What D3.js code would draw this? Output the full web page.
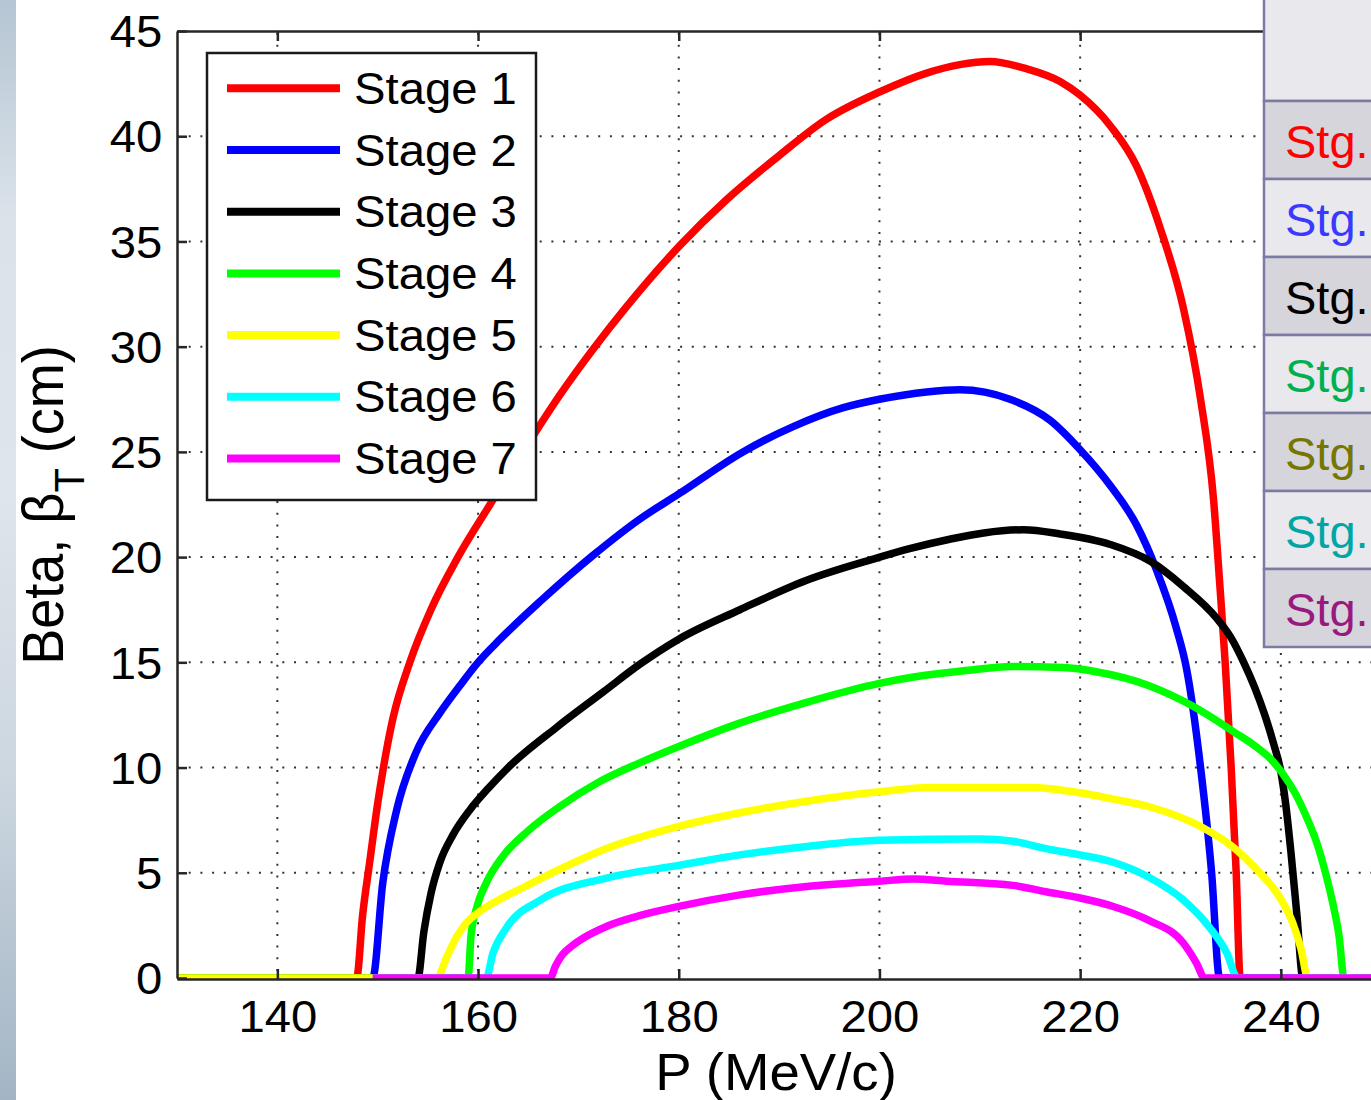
<!DOCTYPE html>
<html><head><meta charset="utf-8">
<script src="https://cdn.jsdelivr.net/npm/d3@7"></script>
<style>
body{margin:0;background:#fff;overflow:hidden}
svg{display:block}
text{font-family:"Liberation Sans",Arial,sans-serif}
</style>
</head><body>
<svg id="c" width="1371" height="1100"></svg>
<script>
// ---------------- data ----------------
const stageNames = ["Stage 1","Stage 2","Stage 3","Stage 4","Stage 5","Stage 6","Stage 7"];
const stageColors = ["#ff0000","#0000ff","#000000","#00ff00","#ffff00","#00ffff","#ff00ff"];

const stage1 = [[130,0],[147.9,0],[148.5,3],[149.2,5.5],[150,8.3],[150.5,9.8],[151.5,12.3],[153.2,15],[155.3,17.5],[158,20],[161.2,22.5],[165.8,26],[168.3,27.8],[171.5,29.9],[174.8,31.9],[180.1,34.8],[184.8,37],[189.8,39],[194.7,40.8],[200,42.1],[204.7,43],[208,43.4],[211,43.55],[214.7,43.2],[218,42.6],[220,41.95],[223,40.5],[225.6,38.6],[228,35.6],[230.3,31.8],[232,27.5],[233.3,22.7],[233.9,18.8],[234.45,15],[235.05,10],[235.55,5],[235.95,0],[250,0]];
const stage2 = [[130,0],[149.5,0],[150.5,4.5],[151.9,8],[153.8,10.7],[156.2,12.6],[158.2,13.9],[160,15],[162.2,16.1],[166.2,17.9],[171.5,20.1],[176.1,21.8],[180,23],[186.4,25],[191.4,26.2],[196.4,27.1],[200,27.5],[204.7,27.85],[208,27.95],[213,27.5],[217,26.5],[220,25.1],[223,23.4],[225.65,21.5],[227.6,19.4],[229.6,16.6],[230.6,14.7],[232,10],[233.1,5],[233.9,0],[250,0]];
const stage3 = [[130,0],[154,0],[154.6,2.2],[155.3,4],[156.2,5.5],[157.5,6.8],[159.2,8],[161,9],[163,10],[167.8,11.9],[172.5,13.6],[176.1,14.9],[180,16.1],[186.1,17.5],[192.75,18.9],[199.7,19.95],[203,20.4],[207,20.85],[210.4,21.15],[214.35,21.3],[218,21.1],[223,20.6],[227,19.8],[230.3,18.6],[233.6,17.1],[235,16.2],[236.3,15],[237.4,13.8],[238.4,12.5],[239.3,11.1],[240,9.8],[240.5,8.2],[241,6],[241.6,3],[242.2,0],[250,0]];
const stage4 = [[130,0],[159,0],[159.3,2],[159.9,3.4],[160.8,4.5],[162.5,5.8],[165,7],[168,8.1],[172,9.3],[176,10.2],[180,11],[186,12.1],[192.75,13.1],[200,14],[203.4,14.3],[208.4,14.6],[213.3,14.8],[218.3,14.75],[221.6,14.55],[226.8,13.9],[231.3,12.9],[235.3,11.7],[237.5,11],[239,10.4],[240.2,9.7],[241.4,8.8],[242.6,7.6],[243.6,6.4],[244.5,4.9],[245.2,3.5],[245.8,2],[246.3,0],[250,0]];
const stage5 = [[130,0],[155.9,0],[156.8,0.9],[157.8,1.9],[158.8,2.6],[160,3.1],[162,3.7],[164.5,4.3],[167,4.9],[172.8,6.15],[180,7.2],[186.1,7.85],[192.75,8.4],[200,8.85],[205,9.05],[215,9.05],[220,8.8],[223.3,8.5],[226.8,8.15],[232,7.2],[235.3,6.2],[237.9,5],[239.2,4.3],[240.3,3.5],[241.2,2.6],[242,1.4],[242.7,0],[250,0]];
const stage6 = [[149.5,0],[160.8,0],[161.5,1.2],[162.85,2.4],[166.2,3.7],[172.8,4.75],[180,5.35],[186.1,5.85],[192.75,6.25],[200,6.55],[210,6.6],[213.3,6.5],[216.6,6.15],[220,5.85],[223.3,5.5],[226.8,4.8],[230.3,3.7],[232.9,2.4],[234.6,1.2],[235.7,0],[250,0]];
const stage7 = [[149.5,0],[167.2,0],[167.7,0.55],[168.4,1.1],[169.3,1.5],[170.5,1.9],[172.8,2.45],[176,2.95],[180,3.4],[186.1,3.95],[192.75,4.35],[200,4.6],[203.4,4.7],[206.7,4.6],[213.3,4.4],[216.6,4.1],[220,3.8],[223.3,3.4],[226.8,2.75],[230.3,1.65],[231.6,0.7],[232.4,0],[250,0]];
const stages = [stage1,stage2,stage3,stage4,stage5,stage6,stage7];

const xTicks = [140,160,180,200,220,240];
const yTicks = [0,5,10,15,20,25,30,35,40,45];
const xLabel = "P (MeV/c)";
const tableLabels = ["Stg.","Stg.","Stg.","Stg.","Stg.","Stg.","Stg."];
const tableColors = ["#ff0000","#3a3aff","#000000","#00b050","#767600","#00a6a6","#99197f"];

// ---------------- layout ----------------
const svg = d3.select("#c");
const L = 177, T = 31, B = 978;
const x = d3.scaleLinear().domain([130,250]).range([L, L + 120*10.035]);
const y = d3.scaleLinear().domain([0,45]).range([B, T]);
const R = x(250);
const SX = 1.05;

// left gradient strip
const defs = svg.append("defs");
const grad = defs.append("linearGradient").attr("id","strip").attr("x1",0).attr("y1",0).attr("x2",0).attr("y2",1);
[[0,"#b5c5d3"],[0.2,"#dbe3ea"],[0.45,"#dee5eb"],[0.7,"#cdd7e0"],[1,"#a3b5c5"]].forEach(s=>grad.append("stop").attr("offset",s[0]).attr("stop-color",s[1]));
svg.append("rect").attr("x",0).attr("y",0).attr("width",16).attr("height",1100).attr("fill","url(#strip)");

defs.append("clipPath").attr("id","plotclip").append("rect")
  .attr("x",L+1).attr("y",T).attr("width",R-L).attr("height",B-T+1);

// grid
const grid = svg.append("g").attr("stroke","#333").attr("stroke-width",2).attr("stroke-dasharray","2 9.7");
xTicks.forEach(t=>grid.append("line").attr("x1",x(t)).attr("x2",x(t)).attr("y1",T+2).attr("y2",B));
yTicks.filter(t=>t>0&&t<45).forEach(t=>grid.append("line").attr("x1",L).attr("x2",R).attr("y1",y(t)).attr("y2",y(t)));

// curves
const line = d3.line().x(d=>x(d[0])).y(d=>y(d[1])).curve(d3.curveMonotoneX);
const cg = svg.append("g").attr("clip-path","url(#plotclip)");
stages.forEach((s,i)=>{
  cg.append("path").attr("d",line(s)).attr("fill","none")
    .attr("stroke",stageColors[i]).attr("stroke-width",7.5).attr("stroke-linejoin","round");
});

// axes
const axB = svg.append("g").attr("transform",`translate(0,${B+1})`)
  .call(d3.axisBottom(x).tickValues(xTicks).tickSize(-10).tickSizeOuter(0).tickPadding(21).tickFormat(d3.format("d")));
const axL = svg.append("g").attr("transform",`translate(${L},0)`)
  .call(d3.axisLeft(y).tickValues(yTicks).tickSize(-10).tickSizeOuter(0).tickPadding(14).tickFormat(d3.format("d")));
const axT = svg.append("g").attr("transform",`translate(0,${T})`)
  .call(d3.axisTop(x).tickValues(xTicks).tickSize(-10).tickSizeOuter(0).tickFormat(""));
[axB,axL,axT].forEach(a=>{
  a.select(".domain").attr("stroke","#262626").attr("stroke-width",2.5);
  a.selectAll(".tick line").attr("stroke","#262626").attr("stroke-width",2.5);
  a.selectAll("text").attr("fill","#000").style("font-size","45px").attr("font-family",null);
});
axB.selectAll(".tick text").attr("transform",`scale(${SX},1)`);
axL.selectAll(".tick text").attr("transform",`scale(${SX},1)`).attr("dy","0.35em");

// axis labels
svg.append("text").attr("transform",`translate(776,1090) scale(${SX},1)`)
  .attr("text-anchor","middle").style("font-size","52px").text(xLabel);
const yl = svg.append("text").attr("transform",`translate(63,505) rotate(-90) scale(1,${SX})`)
  .attr("text-anchor","middle").style("font-size","54px");
yl.append("tspan").text("Beta, β");
yl.append("tspan").attr("dy",20).style("font-size","40px").text("T");
yl.append("tspan").attr("dy",-20).text(" (cm)");

// legend
const lg = svg.append("g");
lg.append("rect").attr("x",207).attr("y",53).attr("width",329).attr("height",447)
  .attr("fill","#fff").attr("stroke","#1a1a1a").attr("stroke-width",2.5);
stageNames.forEach((n,i)=>{
  const yy = 88.3 + i*61.7;
  lg.append("line").attr("x1",227).attr("x2",340).attr("y1",yy).attr("y2",yy)
    .attr("stroke",stageColors[i]).attr("stroke-width",8);
  lg.append("text").attr("transform",`translate(354,${yy+15.5}) scale(${SX},1)`)
    .style("font-size","45px").text(n);
});

// table overlay on right
const tb = svg.append("g");
const tx = 1264, rowH = 78, top0 = 101;
tb.append("rect").attr("x",tx).attr("y",-5).attr("width",140).attr("height",top0+5)
  .attr("fill","#e9e9ed").attr("stroke","#7b7ba3").attr("stroke-width",2.5);
tableLabels.forEach((lab,i)=>{
  const ty = top0 + i*rowH;
  tb.append("rect").attr("x",tx).attr("y",ty).attr("width",140).attr("height",rowH)
    .attr("fill", i%2===0 ? "#d5d5db" : "#e9e9ed").attr("stroke","#7b7ba3").attr("stroke-width",2.5);
  tb.append("text").attr("x",1285).attr("y",ty+57).attr("fill",tableColors[i])
    .style("font-size","47px").text(lab);
});
</script>
</body></html>
